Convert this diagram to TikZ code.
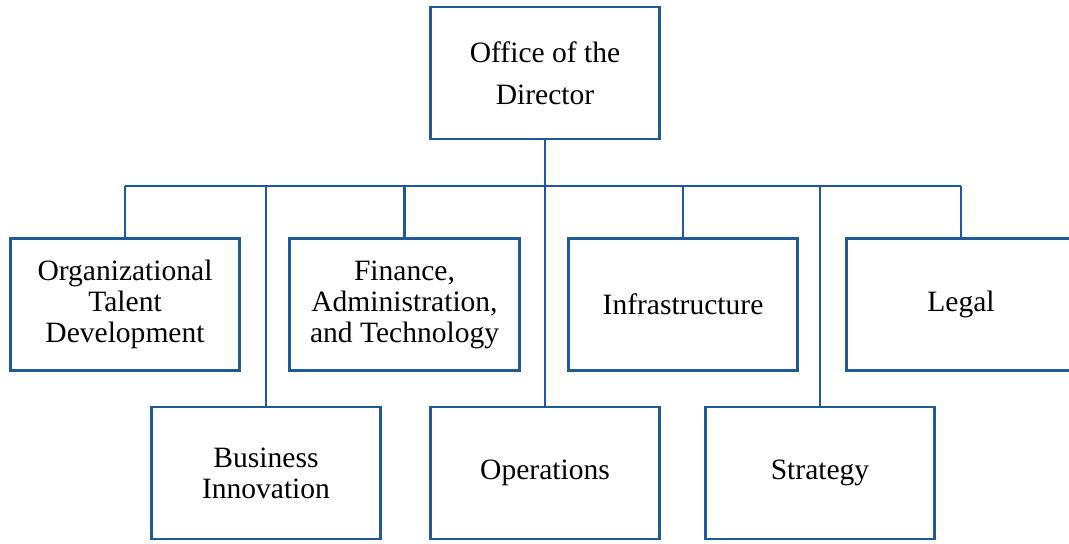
\documentclass[tikz,border=0pt]{standalone}
\usepackage{fontspec}
\setmainfont{Liberation Serif}
\usetikzlibrary{positioning}
\usepackage{xcolor}
\definecolor{orgblue}{HTML}{1F5A96}
\tikzset{
  unitbox/.style={rectangle, draw=orgblue, fill=white, line width=2.1pt,
                  minimum width=5.725cm, minimum height=3.3cm, inner sep=2pt,
                  align=center, font=\fontsize{21}{22}\selectfont},
  headbox/.style={unitbox, font=\fontsize{21}{30}\selectfont},
  orgline/.style={draw=orgblue, line width=2.1pt},
}

\begin{document}
\begin{tikzpicture}[x=0.025cm, y=-0.025cm]
  \useasboundingbox (0,0) rectangle (1069,544);

  % --- Director ---
  \node[headbox] (dir) at (545,73) {Office of the\\Director};
  \coordinate (bar) at (0,186);

  % --- Upper row ---
  \node[unitbox] (otd)   at (125,304.5) {Organizational\\Talent\\Development};
  \node[unitbox] (fat)   at (404.5,304.5) {Finance,\\Administration,\\and Technology};
  \node[unitbox] (infra) at (683,304.5) {Infrastructure};
  \node[unitbox] (legal) at (961,304.5) {Legal};

  % --- Lower row ---
  \node[unitbox] (bi)    at (266,473) {Business\\Innovation};
  \node[unitbox] (ops)   at (545,473) {Operations};
  \node[unitbox] (strat) at (820,473) {Strategy};

  % Reporting lines
  \draw[orgline] (dir.south) -- (ops.north);
  \draw[orgline] (otd.north |- bar) -- (legal.north |- bar);
  \foreach \u in {otd,fat,infra,legal,bi,strat} {
    \draw[orgline] (\u.north |- bar) -- (\u.north);
  }
\end{tikzpicture}
\end{document}
